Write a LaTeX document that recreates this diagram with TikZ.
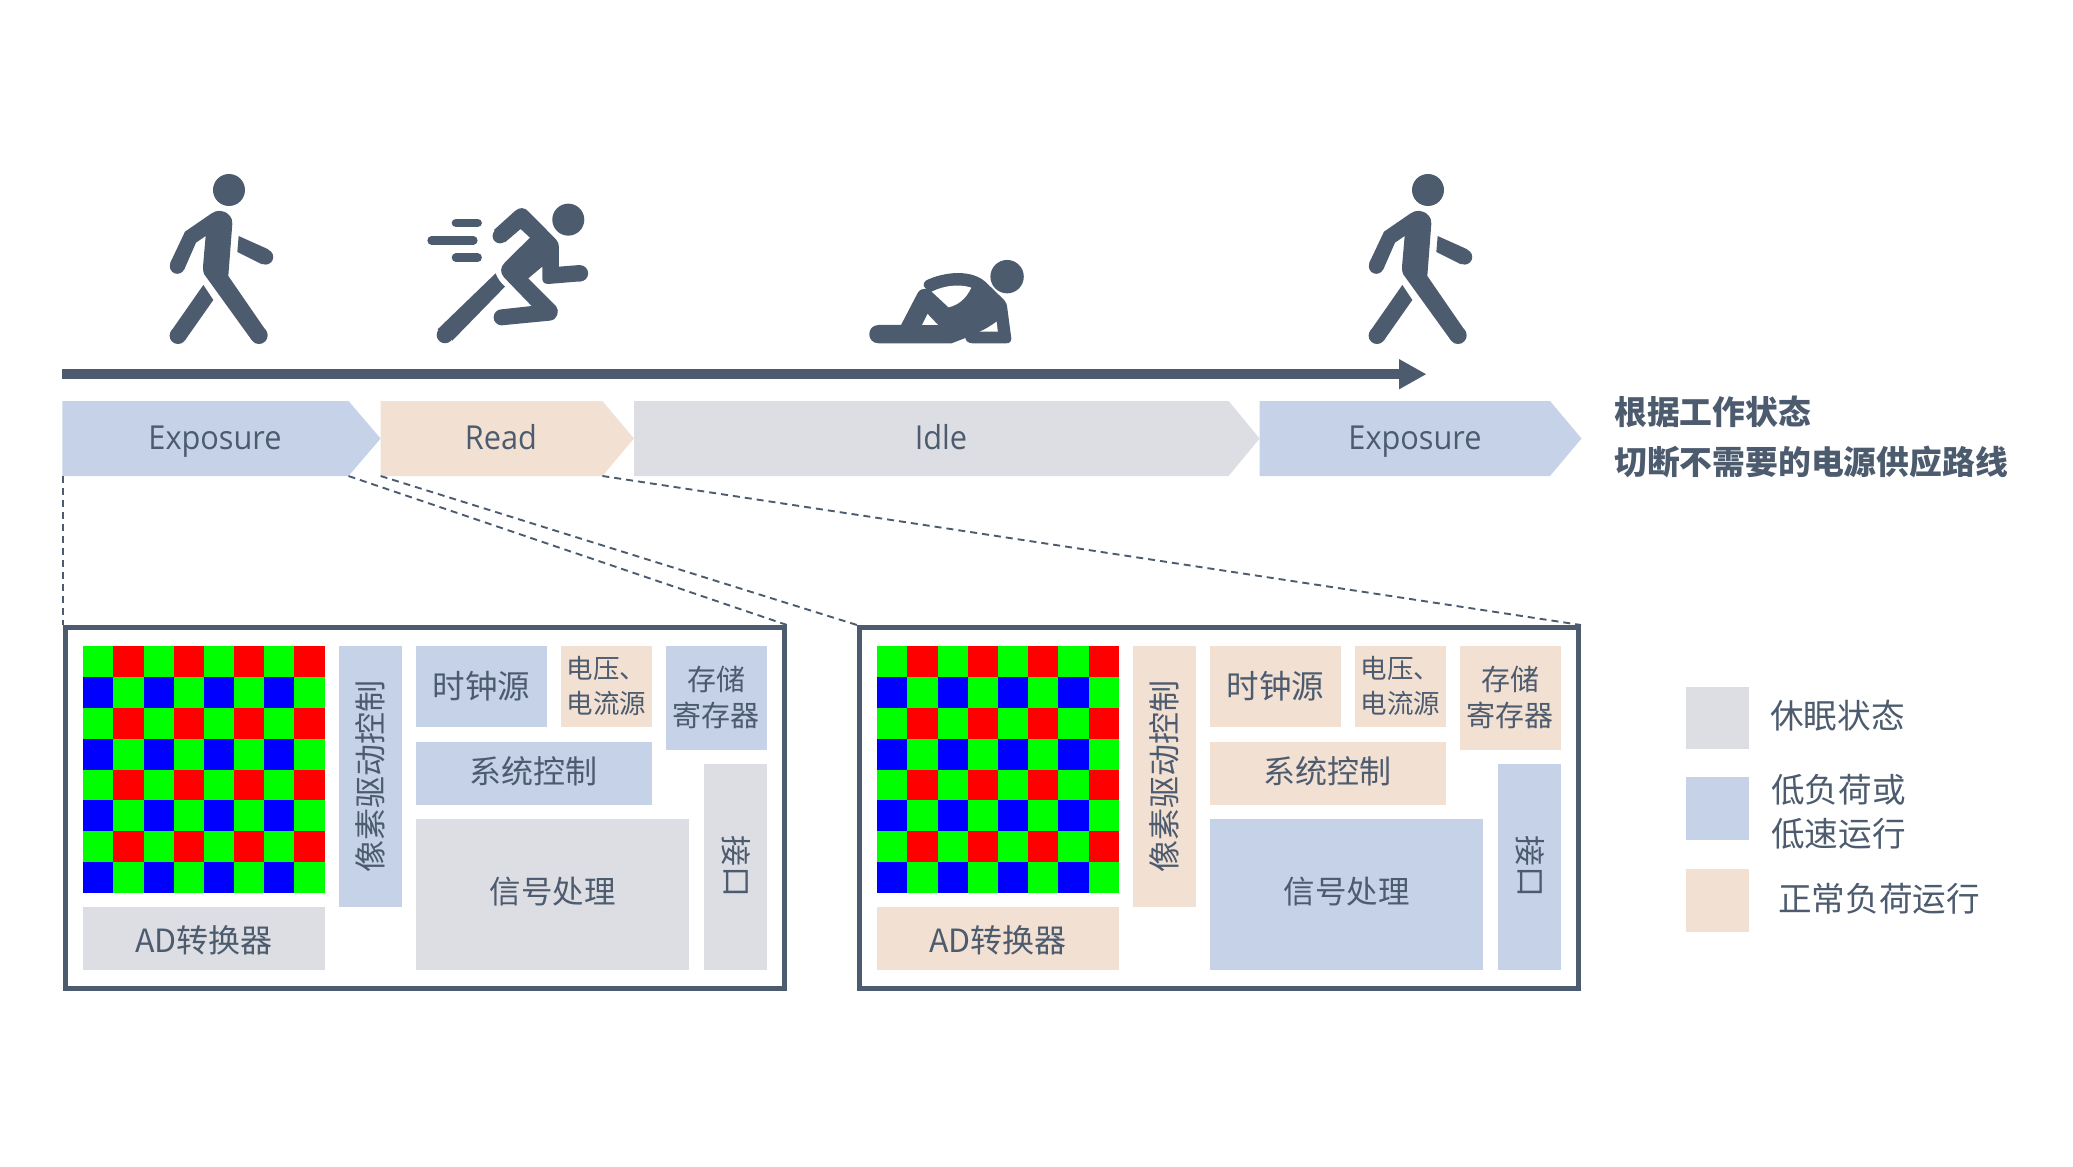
\documentclass[tikz,border=0pt]{standalone}
\usepackage{fontspec}
\setmainfont{Noto Sans CJK SC}
\newfontfamily\latinf[FakeStretch=0.93]{Open Sans}
\definecolor{ink}{HTML}{4D5B6F}
\definecolor{cblue}{HTML}{C6D2E8}
\definecolor{cpeach}{HTML}{F2E1D3}
\definecolor{cgray}{HTML}{DDDEE3}
\definecolor{pG}{HTML}{00FF00}
\definecolor{pR}{HTML}{FF0000}
\definecolor{pB}{HTML}{0000FF}
\tikzset{
  blockbox/.style={inner sep=0pt,outer sep=0pt,text=ink,align=center},
  framebox/.style={draw=ink,line width=5pt,fill=white,inner sep=0pt,outer sep=2.5pt},
  zoomline/.style={draw=ink,line width=1.9pt,dash pattern=on 7pt off 5pt},
  chev/.style={fill=#1},
  chevtext/.style={text=ink,font=\fontsize{33}{36}\selectfont\latinf,inner sep=0pt,anchor=base},
  labeltext/.style={text=ink,inner sep=0pt,align=left,anchor=west},
  icon/.style={fill=ink,draw=none},
}
% \bx{name}{x1}{y1}{x2}{y2}{colour}{size}{text}
\newcommand{\bx}[8]{%
  \node[blockbox,fill=#6,minimum width={(#4-#2)*1pt},minimum height={(#5-#3)*1pt},
    font=\fontsize{#7}{40}\selectfont] (#1) at ({(#2+#4)/2},{(#3+#5)/2}) {#8};}
% panel: prefix, offset, colours
\newcommand{\sensorpanel}[3]{%
  \begin{scope}[shift={(#2,0)}]
   \node[framebox,minimum width=719pt,minimum height=360.5pt] (#1frame) at (425,807.75) {};
   \foreach \r in {0,...,7}{\foreach \c in {0,...,7}{%
     \pgfmathtruncatemacro{\k}{mod(\r,2)*2+mod(\c,2)}%
     \ifcase\k\relax\def\cc{pG}\or\def\cc{pR}\or\def\cc{pB}\or\def\cc{pG}\fi
     \fill[\cc] ({83.3+\c*30.17},{646+\r*30.875}) rectangle ({83.3+(\c+1)*30.17},{646+(\r+1)*30.875});
   }}
  #3
  \end{scope}}
\newcommand{\panelblocks}[9]{%
   \bx{#1ad}{83.3}{907.3}{324.7}{970}{#2}{32}{\raisebox{-1.5pt}[\height][\depth]{AD转换器}}
   \bx{#1drive}{338.7}{646}{401.7}{907.3}{#3}{32}{\rotatebox{90}{像素驱动控制}}
   \bx{#1clock}{416}{646}{547}{727.3}{#4}{32.5}{时钟源}
   \node[blockbox,fill=#5,minimum width=90.4pt,minimum height=81.3pt,align=left,
     font=\fontsize{26.5}{35}\selectfont] (#1volt) at (606.5,686.65) {\raisebox{1pt}[\height][\depth]{电压、}\\\raisebox{1pt}[\height][\depth]{电流源}};
   \node[blockbox,fill=#6,minimum width=100.7pt,minimum height=104pt,
     font=\fontsize{29}{36}\selectfont] (#1store) at (716.35,698) {\raisebox{1pt}[\height][\depth]{存储}\\\raisebox{1pt}[\height][\depth]{寄存器}};
   \bx{#1sys}{416}{742}{651.7}{804.7}{#7}{32}{\raisebox{2.5pt}[\height][\depth]{系统控制}}
   \bx{#1sig}{416}{819}{689}{970}{#8}{31.5}{\raisebox{3pt}[\height][\depth]{信号处理}}
   \bx{#1port}{703.7}{764}{766.7}{970}{#9}{31}{}
   \node[text=ink,inner sep=0pt,rotate=-90,font=\fontsize{31}{36}\selectfont] (#1portA) at (736,851) {接};
   \node[text=ink,inner sep=0pt,rotate=-90,font=\fontsize{31}{36}\selectfont] (#1portB) at (736,882) {口};
}
\newcommand{\walker}[1]{%
  \begin{scope}[shift={(#1,150)},x=0.3333pt,y=-0.3333pt]
   \fill[icon] (267,120) circle[radius=16pt];
   \fill[icon] (90,340) -- (135,245) -- (215,190) .. controls (228,180) and (252,178) .. (268,196)
     .. controls (276,205) and (277,212) .. (277,222) -- (265,378) -- (380,545) -- (335,570) -- (192,372)
     .. controls (190,365) and (189,360) .. (189,350) -- (197,258) -- (168,278) -- (133,358) -- cycle;
   \fill[icon] (112,349) circle[radius=7.5pt];
   \fill[icon] (357,556) circle[radius=8.7pt];
   \fill[icon] (296,258) -- (385,298) -- (366,343) -- (292,306) -- cycle;
   \fill[icon] (377,321) circle[radius=7.6pt];
   \fill[icon] (190,405) -- (220,450) -- (135,571) -- (93,544) -- cycle;
   \fill[icon] (114,557) circle[radius=8.4pt];
  \end{scope}}
\begin{document}
\begin{tikzpicture}[x=1pt,y=-1pt]
\useasboundingbox (0,0) rectangle (2073,1167);
% anchors on the chevrons
\coordinate (e1bl) at (63,476);
\coordinate (e1sh) at (348.5,476);
\coordinate (r1bl) at (380.6,476);
\coordinate (r1sh) at (602.4,476);
% chevrons
\fill[chev=cblue] (62.3,401) -- (348.5,401) -- (380.6,438.5) -- (348.5,476) -- (62.3,476) -- cycle;
\fill[chev=cpeach] (380.6,401) -- (602.4,401) -- (634,438.5) -- (602.4,476) -- (380.6,476) -- cycle;
\fill[chev=cgray] (634,401) -- (1228.6,401) -- (1259.6,438.5) -- (1228.6,476) -- (634,476) -- cycle;
\fill[chev=cblue] (1259.6,401) -- (1550,401) -- (1581.5,438.5) -- (1550,476) -- (1259.6,476) -- cycle;
\node[chevtext] (t1) at (215,449) {Exposure};
\node[chevtext] (t2) at (501,449) {Read};
\node[chevtext] (t3) at (941,449) {Idle};
\node[chevtext] (t4) at (1415,449) {Exposure};
% panels
\sensorpanel{a}{0}{\panelblocks{a}{cgray}{cblue}{cblue}{cpeach}{cblue}{cblue}{cgray}{cgray}}
\sensorpanel{b}{794}{\panelblocks{b}{cpeach}{cpeach}{cpeach}{cpeach}{cpeach}{cpeach}{cblue}{cblue}}
% dashed zoom lines
\draw[zoomline] (e1bl) -- (aframe.north west);
\draw[zoomline] (e1sh) -- (aframe.north east);
\draw[zoomline] (r1bl) -- (bframe.north west);
\draw[zoomline] (r1sh) -- (bframe.north east);
% timeline arrow
\coordinate (tl0) at (62,374.2);
\coordinate (tl1) at (1399,374.2);
\coordinate (tl2) at (1426,374.2);
\draw[ink,line width=10.2pt] (tl0) -- (tl1);
\fill[ink] (1399,359) -- (tl2) -- (1399,389.4) -- cycle;
% walkers
\walker{140}
\walker{1339}
% runner
\begin{scope}[shift={(140,150)},x=0.3333pt,y=-0.3333pt]
 \fill[icon] (1285,209) circle[radius=16pt];
 \draw[ink,line width=8.6pt,line cap=round] (948,219) -- (1013,219);
 \draw[ink,line width=8.6pt,line cap=round] (875,271) -- (1000,271);
 \draw[ink,line width=8.6pt,line cap=round] (948,323) -- (1013,323);
 \fill[icon] (1062,240) -- (1125,183) .. controls (1140,170) and (1155,172) .. (1167,186)
   -- (1248,268) .. controls (1255,276) and (1257,283) .. (1257,292) -- (1257,350) -- (1320,345)
   -- (1322,394) -- (1225,402) .. controls (1212,402) and (1207,395) .. (1207,385) -- (1207,350) -- (1165,385)
   -- (1248,468) .. controls (1260,482) and (1253,510) .. (1230,512) -- (1085,526) -- (1085,478) -- (1175,468)
   -- (1092,382) .. controls (1080,368) and (1080,352) .. (1095,337) -- (1170,263) -- (1142,237) -- (1095,277) -- cycle;
 \fill[icon] (1080,258) circle[radius=7.4pt];
 \fill[icon] (1320,370) circle[radius=8.2pt];
 \fill[icon] (1085,502) circle[radius=8pt];
 \fill[icon] (1067,370) .. controls (1072,385) and (1082,398) .. (1095,410) -- (937,572) -- (893,538) -- cycle;
 \fill[icon] (915,555) circle[radius=8.3pt];
\end{scope}
% crawler
\begin{scope}[shift={(840,150)},x=0.4209pt,y=-0.3333pt]
 \fill[icon] (397,380) circle[radius=16.7pt];
 \fill[icon] (92,525) -- (145,525) -- (185,428) .. controls (190,418) and (197,416) .. (205,416)
   .. controls (192,405) and (200,392) .. (212,387) .. controls (260,362) and (315,362) .. (345,395)
   -- (390,450) .. controls (395,458) and (396,462) .. (397,470) -- (407,565)
   .. controls (407,575) and (403,580) .. (395,580) -- (315,580) .. controls (305,580) and (298,572) .. (298,564)
   -- (265,580) -- (92,580) .. controls (62,580) and (62,525) .. (92,525) -- cycle;
 \fill[white] (218,425) .. controls (250,405) and (285,402) .. (312,413) .. controls (300,445) and (282,465) .. (258,472) -- cycle;
 \fill[white] (208,492) -- (233,525) -- (195,525) -- cycle;
 \fill[white] (372,515) -- (375,545) -- (332,545) .. controls (347,537) and (360,526) .. (372,515) -- cycle;
\end{scope}
% heading
\node[labeltext,font=\fontsize{32.8}{50}\selectfont\bfseries] (head) at (1614,437) {根据工作状态\\切断不需要的电源供应路线};
% legend
\node[fill=cgray,inner sep=0pt,minimum width=63pt,minimum height=62pt] (lg1) at (1717.5,718) {};
\node[fill=cblue,inner sep=0pt,minimum width=63pt,minimum height=63pt] (lg2) at (1717.5,808.5) {};
\node[fill=cpeach,inner sep=0pt,minimum width=63pt,minimum height=63pt] (lg3) at (1717.5,900.5) {};
\node[labeltext,font=\fontsize{33.6}{33}\selectfont] (lt1) at (1770,716) {休眠状态};
\node[labeltext,font=\fontsize{33.6}{44}\selectfont] (lt2) at (1771,812) {低负荷或\\低速运行};
\node[labeltext,font=\fontsize{33.6}{33}\selectfont] (lt3) at (1778,899) {正常负荷运行};
\end{tikzpicture}
\end{document}
